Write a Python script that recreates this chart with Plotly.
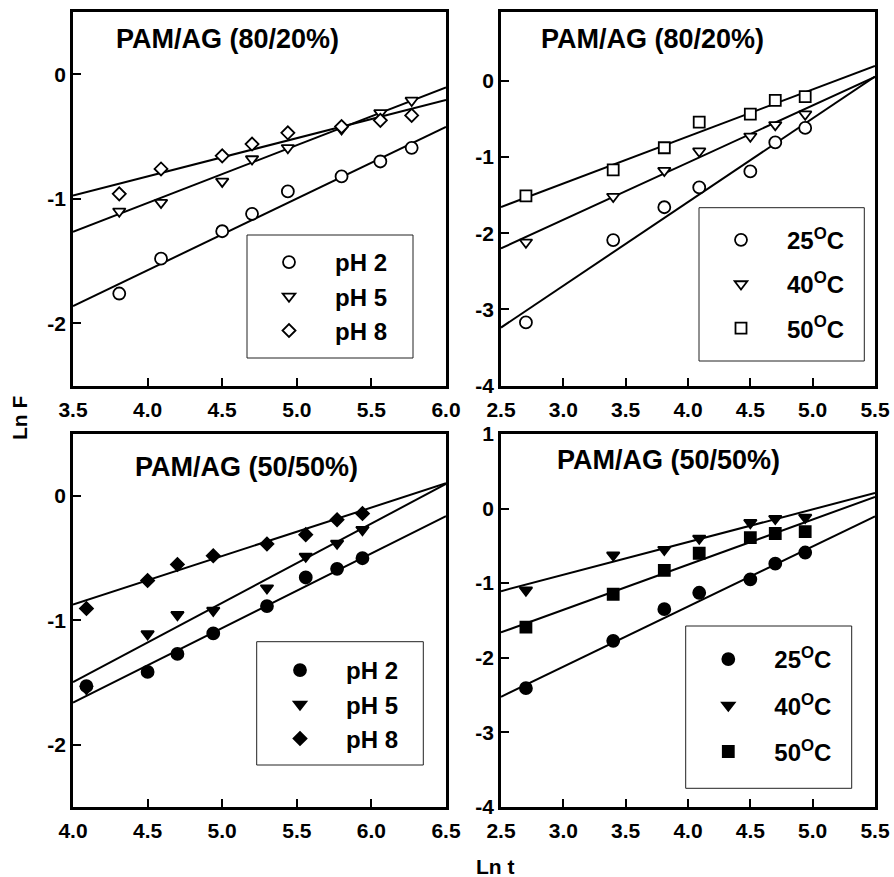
import plotly.graph_objects as go

FONT = "Liberation Sans, Arial, sans-serif"

# ---------------- data ----------------
# Panel 1: PAM/AG (80/20%), pH series
p1_x = [3.81, 4.09, 4.50, 4.70, 4.94, 5.30, 5.56, 5.77]
p1_ph2 = [-1.76, -1.48, -1.26, -1.12, -0.94, -0.82, -0.70, -0.59]
p1_ph5 = [-1.10, -1.03, -0.86, -0.68, -0.59, -0.44, -0.31, -0.21]
p1_ph8 = [-0.96, -0.76, -0.655, -0.56, -0.47, -0.42, -0.37, -0.33]
p1_slope = [0.575, 0.464, 0.307]
p1_icpt = [-3.873, -2.889, -2.048]

# Panel 2: PAM/AG (80/20%), temperature series
p2_x = [2.70, 3.40, 3.81, 4.09, 4.50, 4.70, 4.94]
p2_t25 = [-3.17, -2.09, -1.66, -1.40, -1.19, -0.81, -0.62]
p2_t40 = [-2.12, -1.52, -1.18, -0.925, -0.73, -0.58, -0.44]
p2_t50 = [-1.51, -1.17, -0.88, -0.545, -0.44, -0.26, -0.21]
p2_slope = [1.097, 0.750, 0.617]
p2_icpt = [-5.98, -4.075, -3.20]

# Panel 3: PAM/AG (50/50%), pH series
p3_x = [4.09, 4.50, 4.70, 4.94, 5.30, 5.56, 5.77, 5.94]
p3_ph2 = [-1.53, -1.415, -1.27, -1.105, -0.885, -0.655, -0.585, -0.50]
p3_ph5 = [-1.55, -1.11, -0.955, -0.92, -0.74, -0.485, -0.38, -0.27]
p3_ph8 = [-0.905, -0.68, -0.55, -0.48, -0.385, -0.31, -0.19, -0.14]
p3_slope = [0.600, 0.638, 0.390]
p3_icpt = [-4.062, -4.049, -2.432]

# Panel 4: PAM/AG (50/50%), temperature series
p4_x = [2.70, 3.40, 3.81, 4.09, 4.50, 4.70, 4.94]
p4_t25 = [-2.41, -1.775, -1.35, -1.13, -0.95, -0.74, -0.59]
p4_t40 = [-1.095, -0.625, -0.55, -0.40, -0.19, -0.135, -0.12]
p4_t50 = [-1.59, -1.15, -0.83, -0.60, -0.39, -0.335, -0.31]
p4_slope = [0.807, 0.439, 0.606]
p4_icpt = [-4.543, -2.206, -3.177]

ph_names = ["pH 2", "pH 5", "pH 8"]
temp_names = ["25<sup>O</sup>C", "40<sup>O</sup>C", "50<sup>O</sup>C"]
titles = ["PAM/AG (80/20%)", "PAM/AG (80/20%)", "PAM/AG (50/50%)", "PAM/AG (50/50%)"]

x_ranges = [[3.5, 6.0], [2.5, 5.5], [4.0, 6.5], [2.5, 5.5]]
y_ranges = [[-2.5, 0.5], [-4.0, 0.9], [-2.5, 0.5], [-4.0, 1.0]]
x_tickvals = [[3.5, 4.0, 4.5, 5.0, 5.5, 6.0],
              [2.5, 3.0, 3.5, 4.0, 4.5, 5.0, 5.5],
              [4.0, 4.5, 5.0, 5.5, 6.0, 6.5],
              [2.5, 3.0, 3.5, 4.0, 4.5, 5.0, 5.5]]
x_ticktext = [["3.5", "4.0", "4.5", "5.0", "5.5", "6.0"],
              ["2.5", "3.0", "3.5", "4.0", "4.5", "5.0", "5.5"],
              ["4.0", "4.5", "5.0", "5.5", "6.0", "6.5"],
              ["2.5", "3.0", "3.5", "4.0", "4.5", "5.0", "5.5"]]
y_tickvals = [[0, -1, -2], [0, -1, -2, -3, -4], [0, -1, -2], [1, 0, -1, -2, -3, -4]]
y_ticktext = [["0", "-1", "-2"], ["0", "-1", "-2", "-3", "-4"],
              ["0", "-1", "-2"], ["1", "0", "-1", "-2", "-3", "-4"]]

panels = [
    dict(x=p1_x, ys=[p1_ph2, p1_ph5, p1_ph8], slope=p1_slope, icpt=p1_icpt,
         names=ph_names, symbols=["circle", "triangle-down", "diamond"], filled=False),
    dict(x=p2_x, ys=[p2_t25, p2_t40, p2_t50], slope=p2_slope, icpt=p2_icpt,
         names=temp_names, symbols=["circle", "triangle-down", "square"], filled=False),
    dict(x=p3_x, ys=[p3_ph2, p3_ph5, p3_ph8], slope=p3_slope, icpt=p3_icpt,
         names=ph_names, symbols=["circle", "triangle-down", "diamond"], filled=True),
    dict(x=p4_x, ys=[p4_t25, p4_t40, p4_t50], slope=p4_slope, icpt=p4_icpt,
         names=temp_names, symbols=["circle", "triangle-down", "square"], filled=True),
]

# ---------------- layout geometry ----------------
W, H = 894, 877
x_domains = [[73 / W, 446 / W], [501 / W, 875 / W], [73 / W, 446 / W], [501 / W, 875 / W]]
y_domains = [[1 - 385.7 / H, 1 - 12 / H], [1 - 385.7 / H, 1 - 12 / H],
             [1 - 806.7 / H, 1 - 434 / H], [1 - 806.7 / H, 1 - 434 / H]]
sizes = {"circle": 12, "triangle-down": 11, "diamond": 10, "square": 11}

fig = go.Figure()
legend_ids = ["legend", "legend2", "legend3", "legend4"]

for i, p in enumerate(panels):
    xa = "x" if i == 0 else f"x{i + 1}"
    ya = "y" if i == 0 else f"y{i + 1}"
    xr = x_ranges[i]
    # fitted lines
    for s, b in zip(p["slope"], p["icpt"]):
        fig.add_trace(go.Scatter(
            x=xr, y=[b + s * xr[0], b + s * xr[1]], mode="lines",
            line=dict(color="black", width=2), showlegend=False,
            hoverinfo="skip", xaxis=xa, yaxis=ya, cliponaxis=True))
    # markers
    for k, (yv, nm, sym) in enumerate(zip(p["ys"], p["names"], p["symbols"])):
        fig.add_trace(go.Scatter(
            x=p["x"], y=yv, mode="markers", name=nm,
            marker=dict(symbol=sym, size=sizes[sym],
                        color="black" if p["filled"] else "white",
                        line=dict(color="black", width=1.8)),
            xaxis=xa, yaxis=ya, legend=legend_ids[i],
            legendgroup=f"g{i}_{k}" if i in (1, 3) else None))

axis_font = dict(family=FONT, size=21, color="black", weight="bold")
for i in range(4):
    sfx = "" if i == 0 else str(i + 1)
    fig.layout[f"xaxis{sfx}"] = dict(
        domain=x_domains[i], range=x_ranges[i], anchor=f"y{sfx}",
        tickvals=x_tickvals[i], ticktext=x_ticktext[i],
        ticks="inside", ticklen=8, tickwidth=2, tickcolor="black",
        showline=True, linewidth=2.5, linecolor="black", mirror=True,
        showgrid=False, zeroline=False, tickfont=axis_font,
        ticklabelstandoff=3, automargin=False)
    fig.layout[f"yaxis{sfx}"] = dict(
        domain=y_domains[i], range=y_ranges[i], anchor=f"x{sfx}",
        tickvals=y_tickvals[i], ticktext=y_ticktext[i],
        ticks="inside", ticklen=8, tickwidth=2, tickcolor="black",
        showline=True, linewidth=2.5, linecolor="black", mirror=True,
        showgrid=False, zeroline=False, tickfont=axis_font, automargin=False)

# legend boxes (pixel positions in the page) and legend placement
legend_boxes = [(247, 235, 413, 358), (699, 207.7, 864.3, 361),
                (256.7, 641.7, 423.3, 765), (685.7, 626, 851.7, 788.3)]
legend_marker_x = [289, 741, 300, 728.3]
legend_first_row = [263, 240.7, 670, 660]
legend_row_offset = [23, 23, 22, 23]
legend_group_gap = [0, 10, 0, 12]
shapes = []
for i, lid in enumerate(legend_ids):
    x0, y0, x1, y1 = legend_boxes[i]
    shapes.append(dict(type="rect", xref="paper", yref="paper",
                       x0=x0 / W, x1=x1 / W, y0=1 - y1 / H, y1=1 - y0 / H,
                       line=dict(color="#222", width=1), fillcolor="white",
                       layer="below"))
    fig.layout[lid] = dict(
        x=(legend_marker_x[i] - 46) / W,
        y=1 - (legend_first_row[i] - legend_row_offset[i]) / H,
        xanchor="left", yanchor="top",
        bgcolor="rgba(0,0,0,0)", borderwidth=0,
        font=dict(family=FONT, size=24, color="black", weight="bold"),
        itemwidth=82, tracegroupgap=legend_group_gap[i])

title_pos = [(227 / W, 1 - 39 / H), (652.5 / W, 1 - 38.5 / H),
             (246.7 / W, 1 - 467 / H), (668 / W, 1 - 459.5 / H)]
annotations = []
for i, t in enumerate(titles):
    annotations.append(dict(
        text=t, x=title_pos[i][0], y=title_pos[i][1], xref="paper", yref="paper",
        xanchor="center", yanchor="middle", showarrow=False,
        font=dict(family=FONT, size=27, color="black", weight="bold")))
annotations.append(dict(
    text="Ln F", x=19.5 / W, y=1 - 418.5 / H, xref="paper", yref="paper",
    xanchor="center", yanchor="middle", textangle=-90, showarrow=False,
    font=dict(family=FONT, size=21, color="black", weight="bold")))
annotations.append(dict(
    text="Ln t", x=495 / W, y=1 - 866 / H, xref="paper", yref="paper",
    xanchor="center", yanchor="middle", showarrow=False,
    font=dict(family=FONT, size=21, color="black", weight="bold")))

fig.update_layout(
    width=W, height=H, margin=dict(l=0, r=0, t=0, b=0, autoexpand=False),
    paper_bgcolor="white", plot_bgcolor="rgba(0,0,0,0)",
    annotations=annotations, shapes=shapes, showlegend=True,
    font=dict(family=FONT, color="black"))

fig.write_html("out.html")
